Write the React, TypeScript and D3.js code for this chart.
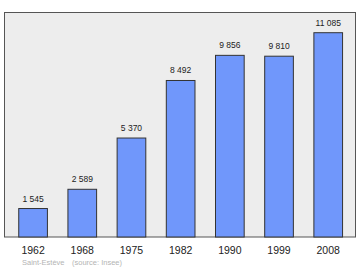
import React from "react";
import * as d3 from "d3";

const years = ["1962", "1968", "1975", "1982", "1990", "1999", "2008"];
const population = [1545, 2589, 5370, 8492, 9856, 9810, 11085];
const valueLabels = ["1 545", "2 589", "5 370", "8 492", "9 856", "9 810", "11 085"];
const footerPlace = "Saint-Estève";
const footerSource = "(source: Insee)";

export default function App() {
  const W = 360, H = 270;
  const frame = { x0: 4.5, y0: 12.5, x1: 355.5, y1: 237 };
  const x = d3.scaleBand<string>().domain(years).range([8.9, 352.4]).paddingInner(0.417).paddingOuter(0.2);
  const y = d3.scaleLinear().domain([0, 11085]).range([frame.y1, 32.7]);
  return (
    <svg width={W} height={H} style={{ position: "absolute", left: 0, top: 0 }} fontFamily="'Liberation Sans', Arial, sans-serif">
      <rect x={0} y={0} width={W} height={H} fill="#ffffff" />
      <rect x={frame.x0} y={frame.y0} width={frame.x1 - frame.x0} height={frame.y1 - frame.y0} fill="#ededed" stroke="#555" strokeWidth={1} />
      {population.map((v, i) => (
        <g key={years[i]}>
          <rect x={x(years[i])!} y={y(v)} width={x.bandwidth()} height={frame.y1 - y(v)} fill="#7097fb" stroke="#333" strokeWidth={1} />
          <text x={x(years[i])! + x.bandwidth() / 2} y={y(v) - 7} textAnchor="middle" fontSize={8.5} fill="#222">{valueLabels[i]}</text>
          <text x={x(years[i])! + x.bandwidth() / 2} y={254} textAnchor="middle" fontSize={10.5} fill="#222">{years[i]}</text>
        </g>
      ))}
      <text x={22} y={265} fontSize={7.5} fill="#b4b4b4">{footerPlace}</text>
      <text x={72} y={265} fontSize={7.5} fill="#b4b4b4">{footerSource}</text>
    </svg>
  );
}
